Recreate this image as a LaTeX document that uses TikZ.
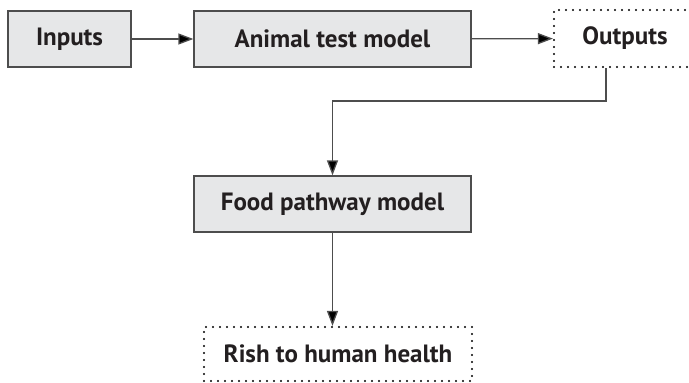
\documentclass[tikz,border=0pt]{standalone}
\usepackage{fontspec}
\setmainfont{PT Sans}
\usetikzlibrary{arrows.meta}
\definecolor{boxfill}{HTML}{E6E7E8}
\definecolor{boxline}{HTML}{4D4D4D}
\definecolor{txt}{HTML}{231F20}
\begin{document}
\begin{tikzpicture}[x=1pt,y=-1pt,
  every node/.style={font=\fontsize{25}{29}\selectfont\bfseries, text=txt, inner sep=0pt},
  solidbox/.style={draw=boxline, line width=1.3pt, fill=boxfill, minimum height=56pt},
  dotbox/.style={draw=black, line width=2.2pt, line cap=round, dash pattern=on 0pt off 7pt, minimum height=56pt},
  link/.style={draw=boxline, line width=1.3pt, -{Triangle[length=15pt,width=11pt,fill=black]}}]
\useasboundingbox (0,0) rectangle (689,383);
\clip (0,0) rectangle (689,383);
\node[solidbox, minimum width=123pt] (inputs) at (69.5,39) {Inputs};
\node[solidbox, minimum width=277pt] (animal) at (332.5,39) {Animal test model};
\node[dotbox, minimum width=142pt, minimum height=57pt] (outs) at (625,38.5) {Outputs};
\node[solidbox, minimum width=277pt] (food) at (332.5,204) {Food pathway model};
\node[dotbox, minimum width=268pt, minimum height=54pt] (risk) at (338,354) {Rish to human health};
\coordinate (bend) at (332.5,101);
\draw[link] (inputs) -- (animal);
\draw[link] (animal) -- (outs);
\draw[link] ([xshift=-19pt]outs.south) |- (bend) -- (food.north);
\draw[link] (food.south) -- (food.south |- risk.north);
\end{tikzpicture}
\end{document}
